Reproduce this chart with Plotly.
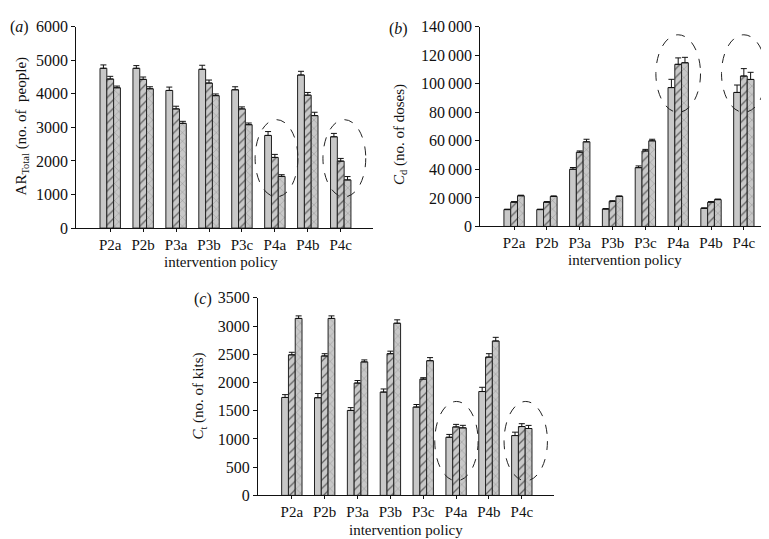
import plotly.graph_objects as go

categories = ["P2a", "P2b", "P3a", "P3b", "P3c", "P4a", "P4b", "P4c"]

# panel (a): AR_Total (no. of people)
a_gray = [4760, 4760, 4100, 4730, 4120, 2760, 4560, 2720]
a_gray_err = [100, 80, 100, 120, 90, 115, 110, 100]
a_hatch = [4440, 4430, 3550, 4320, 3550, 2105, 3960, 1995]
a_hatch_err = [80, 70, 80, 90, 60, 90, 80, 80]
a_cross = [4180, 4150, 3120, 3945, 3080, 1540, 3350, 1435]
a_cross_err = [50, 60, 60, 50, 50, 50, 100, 100]

# panel (b): C_d (no. of doses)
b_gray = [11800, 11800, 40100, 12200, 41200, 97300, 12700, 93900]
b_gray_err = [300, 300, 1200, 300, 1200, 5800, 300, 5200]
b_hatch = [17000, 17000, 52000, 17600, 52900, 113600, 17000, 105400]
b_hatch_err = [400, 400, 900, 400, 1100, 4500, 400, 5200]
b_cross = [21500, 21000, 59300, 21000, 60000, 114700, 18800, 103000]
b_cross_err = [400, 400, 1800, 400, 1100, 3800, 400, 5000]

# panel (c): C_t (no. of kits)
c_gray = [1735, 1730, 1505, 1830, 1565, 1030, 1840, 1060]
c_gray_err = [50, 75, 50, 55, 45, 50, 75, 60]
c_hatch = [2490, 2470, 1990, 2510, 2060, 1213, 2450, 1220]
c_hatch_err = [45, 40, 45, 45, 25, 45, 60, 50]
c_cross = [3135, 3135, 2365, 3050, 2386, 1196, 2735, 1185]
c_cross_err = [45, 45, 35, 60, 55, 45, 65, 55]

a_ticks = [0, 1000, 2000, 3000, 4000, 5000, 6000]
b_ticks = [0, 20000, 40000, 60000, 80000, 100000, 120000, 140000]
b_tick_labels = ["0", "20\u2009000", "40\u2009000", "60\u2009000", "80\u2009000",
                 "100\u2009000", "120\u2009000", "140\u2009000"]
c_ticks = [0, 500, 1000, 1500, 2000, 2500, 3000, 3500]

FONT = "Liberation Serif, Times New Roman, serif"
GRAY = "#c8c8c8"
EDGE = "#222222"

fig = go.Figure()


def add_bars(xa, ya, series):
    for kind, vals, errs in series:
        marker = dict(color=GRAY, line=dict(color=EDGE, width=1))
        if kind == "hatch":
            marker["pattern"] = dict(shape="/", fgcolor="#000000", bgcolor=GRAY,
                                     size=6, solidity=0.22, fillmode="overlay")
        elif kind == "cross":
            marker["pattern"] = dict(shape="x", fgcolor="#3a3a3a", bgcolor=GRAY,
                                     size=6, solidity=0.12, fillmode="overlay")
        fig.add_trace(go.Bar(
            x=categories, y=vals, xaxis=xa, yaxis=ya, marker=marker,
            showlegend=False,
            error_y=dict(type="data", symmetric=False, array=errs,
                         arrayminus=[0] * len(errs), color="#111111",
                         thickness=1, width=3),
        ))


add_bars("x", "y", [("gray", a_gray, a_gray_err), ("hatch", a_hatch, a_hatch_err),
                    ("cross", a_cross, a_cross_err)])
add_bars("x2", "y2", [("gray", b_gray, b_gray_err), ("hatch", b_hatch, b_hatch_err),
                      ("cross", b_cross, b_cross_err)])
add_bars("x3", "y3", [("gray", c_gray, c_gray_err), ("hatch", c_hatch, c_hatch_err),
                      ("cross", c_cross, c_cross_err)])

W, H = 769, 539


def px_x(p):
    return p / W


def px_y(p):
    return 1 - p / H


xcommon = dict(type="category", showline=True, linecolor="#111111", linewidth=1,
               ticks="outside", ticklen=3, tickcolor="#111111", showgrid=False,
               tickfont=dict(family=FONT, size=15, color="#111111"),
               range=[-1.03, 7.98], fixedrange=True)
ycommon = dict(showline=True, linecolor="#111111", linewidth=1, ticks="outside",
               ticklen=4, tickcolor="#111111", showgrid=False, zeroline=False,
               tickfont=dict(family=FONT, size=16, color="#111111"), fixedrange=True)

fig.update_layout(
    width=W, height=H,
    margin=dict(l=0, r=0, t=0, b=0),
    paper_bgcolor="white", plot_bgcolor="white",
    barmode="group", bargap=0.38, bargroupgap=0,
    showlegend=False,
    font=dict(family=FONT, color="#111111"),
    xaxis=dict(xcommon, domain=[px_x(68.3), px_x(365)], anchor="y"),
    yaxis=dict(ycommon, domain=[px_y(219), px_y(11)], anchor="x",
               range=[0, 6000], tickvals=a_ticks),
    xaxis2=dict(xcommon, domain=[px_x(472.3), px_x(768)], anchor="y2"),
    yaxis2=dict(ycommon, domain=[px_y(217.3), px_y(11)], anchor="x2",
                range=[0, 140000], tickvals=b_ticks, ticktext=b_tick_labels),
    xaxis3=dict(xcommon, domain=[px_x(250), px_x(546)], anchor="y3"),
    yaxis3=dict(ycommon, domain=[px_y(495), px_y(291)], anchor="x3",
                range=[0, 3500], tickvals=c_ticks),
)

# dashed ellipses highlighting P4a / P4c
ellipses = [
    ("x", "y", 5.05, 0.65, 930, 3230),
    ("x", "y", 7.11, 0.65, 930, 3230),
    ("x2", "y2", 5.0, 0.68, 80000, 134300),
    ("x2", "y2", 7.0, 0.68, 80000, 134300),
    ("x3", "y3", 5.01, 0.66, 258, 1664),
    ("x3", "y3", 7.12, 0.66, 258, 1664),
]
for xr, yr, cx, rx, y0, y1 in ellipses:
    fig.add_shape(type="circle", xref=xr, yref=yr, x0=cx - rx, x1=cx + rx,
                  y0=y0, y1=y1, line=dict(color="#222222", width=1, dash="dash"))

ann = []


def text(x, y, s, size=15, angle=0):
    ann.append(dict(x=px_x(x), y=px_y(y), xref="paper", yref="paper", text=s,
                    showarrow=False, textangle=angle, xanchor="center", yanchor="middle",
                    font=dict(family=FONT, size=size, color="#111111")))


text(11, 11, "(<i>a</i>)", size=16)
text(390, 13, "(<i>b</i>)", size=16)
text(195, 292, "(<i>c</i>)", size=16)
text(14, 114, "AR<sub>Total</sub> (no. of  people)", angle=-90)
text(392, 123, "<i>C</i><sub>d</sub> (no. of doses)", angle=-90)
text(191, 393, "<i>C</i><sub>t</sub> (no. of kits)", angle=-90)
text(213, 254, "intervention policy")
text(617, 252, "intervention policy")
text(398, 531, "intervention policy")
fig.update_layout(annotations=ann)

fig.write_html("out.html")
